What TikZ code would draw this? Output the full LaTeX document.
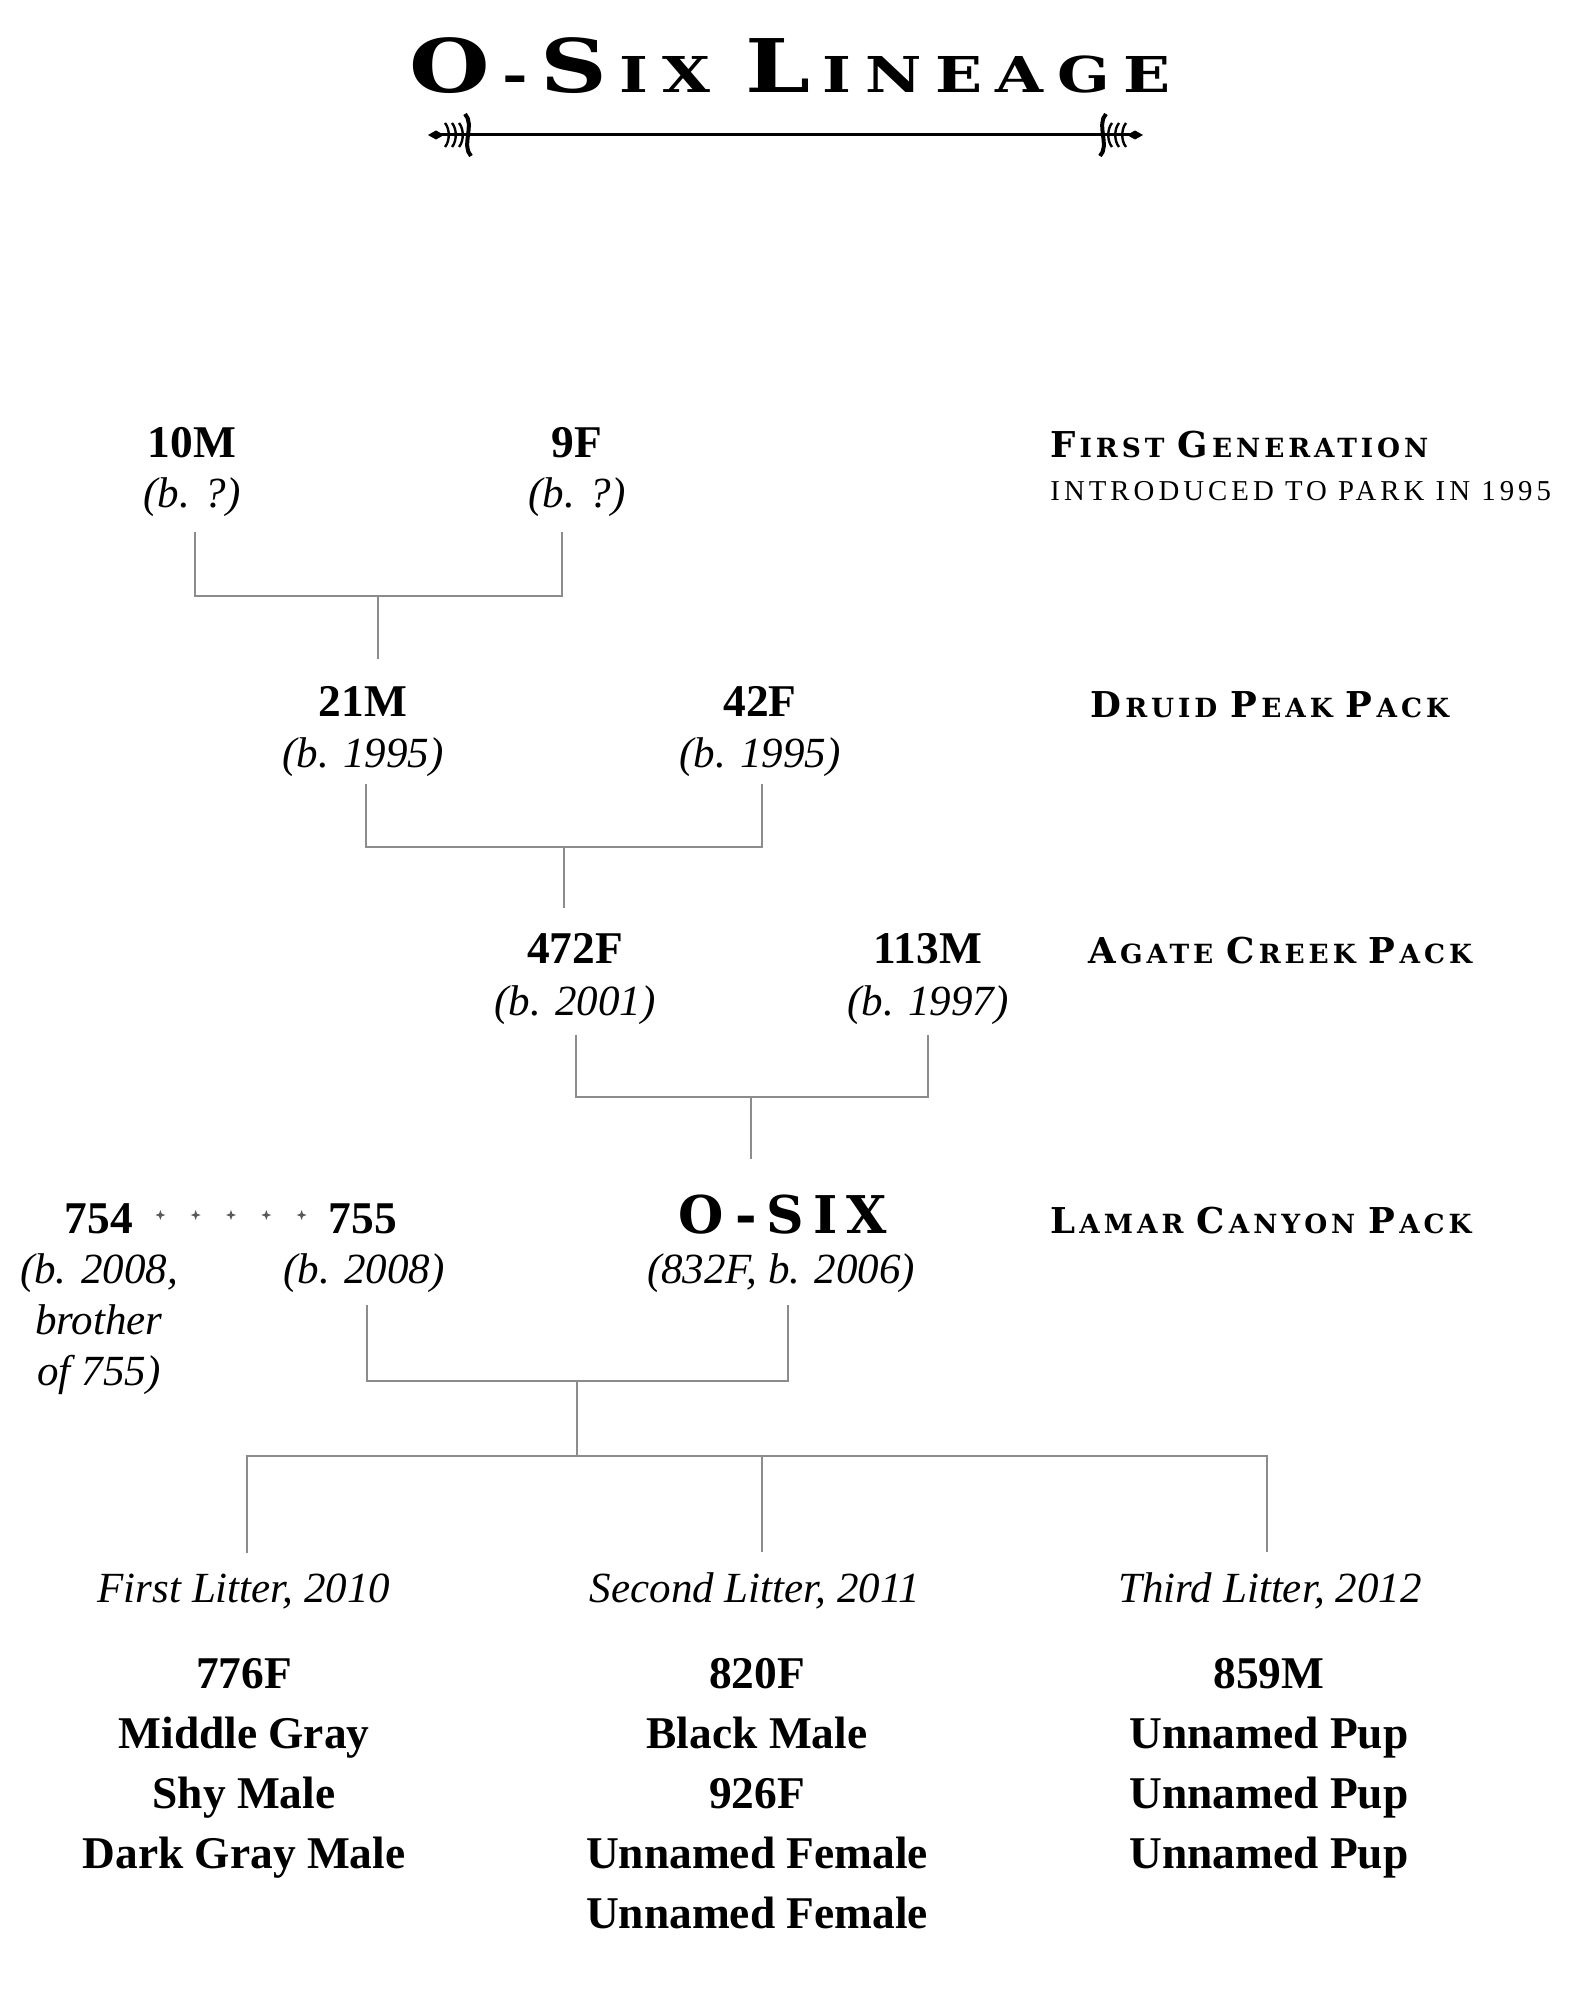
\documentclass[tikz,border=0pt]{standalone}
\usepackage{fontspec}
\usepackage{graphicx}
\setmainfont{Liberation Serif}
\newfontfamily\titlefont{DejaVu Serif}[LetterSpace=22]
\newfontfamily\osixfont{DejaVu Serif}[LetterSpace=18]
\newfontfamily\packfont{DejaVu Serif}[LetterSpace=15]
\newfontfamily\notefont{Liberation Serif}[LetterSpace=14]
\usetikzlibrary{calc}
\definecolor{linkgray}{HTML}{8C8C8C}
\definecolor{dotgray}{HTML}{5A5A5A}
\newcommand{\initcap}[3][0pt]{{\fontsize{#2}{#2}\selectfont #3}\kern#1}

\begin{document}
\begin{tikzpicture}[
    x=0.5pt, y=-0.5pt,
    every node/.style={inner sep=0pt, anchor=base},
    wolf/.style={font=\bfseries\fontsize{22.7}{27}\selectfont},
    born/.style={font=\itshape\fontsize{21.5}{25}\selectfont},
    pup/.style={font=\bfseries\fontsize{22.7}{27}\selectfont},
    litter/.style={font=\itshape\fontsize{21.5}{25}\selectfont},
    pack/.style={anchor=base west, font=\packfont\bfseries\fontsize{13.2}{16}\selectfont},
    link/.style={draw=linkgray, line width=1.25pt},
    orn/.style={line width=1.5pt, line cap=round}
  ]
  \fill[white] (0,0) rectangle (1586,2016);
  \useasboundingbox (0,0) rectangle (1586,2016);

  % title and ornament
  \node[font=\titlefont\bfseries\fontsize{24.7}{30}\selectfont] (title) at (790,93)
    {\scalebox{1.25}[1]{\initcap[5pt]{37}{O}-\kern5pt\initcap[5pt]{37}{S}IX \initcap[5pt]{37}{L}INEAGE}};
  \foreach \side in {1,-1}{
    \begin{scope}[shift={({(1-\side)*785.5},0)}, xscale=\side]
      \fill (428,135) -- (436,130.5) -- (444,135) -- (436,139.5) -- cycle;
      \foreach \fx in {446,453,460}
        \draw[line width=1.2pt] (\fx-1,123) .. controls (\fx+4,129) and (\fx+4,141) .. (\fx-1,147);
      \draw[line width=2pt] (465,114) .. controls (475,124) and (461,146) .. (471,156);
    \end{scope}
  }
  \draw[orn] (436,135) -- (1135,135);

  % generation labels
  \node[pack] (gen1) at (1050,458) {\initcap[2pt]{17.8}{F}IRST \initcap[2pt]{17.8}{G}ENERATION};
  \node[pack, font=\notefont\fontsize{14.4}{16}\selectfont] (gen1note) at (1050,501) {INTRODUCED TO PARK IN 1995};
  \node[pack] (druid) at (1090,717) {\initcap[2pt]{17.8}{D}RUID \initcap[2pt]{17.8}{P}EAK \initcap[2pt]{17.8}{P}ACK};
  \node[pack] (agate) at (1088,963) {\initcap[2pt]{17.8}{A}GATE \initcap[2pt]{17.8}{C}REEK \initcap[2pt]{17.8}{P}ACK};
  \node[pack] (lamar) at (1050,1233) {\initcap[2pt]{17.8}{L}AMAR \initcap[2pt]{17.8}{C}ANYON \initcap[2pt]{17.8}{P}ACK};

  % wolves
  \node[wolf] (m10) at (192,458) {10M};
  \node[born] (m10b) at (192,508) {(b. ?)};
  \node[wolf] (f9) at (577,458) {9F};
  \node[born] (f9b) at (577,508) {(b. ?)};
  \node[wolf] (m21) at (363,716) {21M};
  \node[born] (m21b) at (363,767) {(b. 1995)};
  \node[wolf] (f42) at (760,716) {42F};
  \node[born] (f42b) at (760,767) {(b. 1995)};
  \node[wolf] (f472) at (575,963) {472F};
  \node[born] (f472b) at (575,1015) {(b. 2001)};
  \node[wolf] (m113) at (928,963) {113M};
  \node[born] (m113b) at (928,1015) {(b. 1997)};
  \node[wolf, font=\osixfont\bfseries\fontsize{26}{30}\selectfont] (osix) at (783,1233) {O-SIX};
  \node[born] (osixb) at (781,1283) {(832F, b. 2006)};
  \node[wolf] (w754) at (99,1233) {754};
  \node[born] (w754b) at (99,1283) {(b. 2008,};
  \node[born] (w754c) at (99,1334) {brother};
  \node[born] (w754d) at (99,1385) {of 755)};
  \node[wolf] (w755) at (363,1233) {755};
  \node[born] (w755b) at (364,1283) {(b. 2008)};

  % brothers
  \foreach \f in {0.138,0.319,0.5,0.681,0.862}
    \fill[dotgray] ($(w754.base east)!\f!(w755.base west)+(0,-18)$)
      +(0,-5) -- +(1.3,-1.3) -- +(5,0) -- +(1.3,1.3) -- +(0,5)
      -- +(-1.3,1.3) -- +(-5,0) -- +(-1.3,-1.3) -- cycle;

  % litters
  \node[litter] (lit1) at (244,1602) {First Litter, 2010};
  \node[litter] (lit2) at (755,1602) {Second Litter, 2011};
  \node[litter] (lit3) at (1270,1602) {Third Litter, 2012};
  \foreach \t [count=\i] in {776F, Middle Gray, Shy Male, Dark Gray Male}
    \node[pup] (first\i) at (244,{1628+60*\i}) {\t};
  \foreach \t [count=\i] in {820F, Black Male, 926F, Unnamed Female, Unnamed Female}
    \node[pup] (second\i) at (757,{1628+60*\i}) {\t};
  \foreach \t [count=\i] in {859M, Unnamed Pup, Unnamed Pup, Unnamed Pup}
    \node[pup] (third\i) at (1269,{1628+60*\i}) {\t};

  % lineage brackets
  \coordinate (j1) at (378,596);
  \coordinate (j2) at (564,847);
  \coordinate (j3) at (751,1097);
  \coordinate (j4) at (577,1381);
  \coordinate (j5) at (577,1456);
  \draw[link] (m10b.south) ++(3,14) |- (j1) -| ($(f9b.south)+(-15,14)$);
  \draw[link] (j1) -- ($(j1 |- m21.north)+(0,-27)$);
  \draw[link] (m21b.south) ++(3,7) |- (j2) -| ($(f42b.south)+(2,7)$);
  \draw[link] (j2) -- ($(j2 |- f472.north)+(0,-25)$);
  \draw[link] (f472b.south) ++(1,10) |- (j3) -| ($(m113b.south)+(0,10)$);
  \draw[link] (j3) -- ($(j3 |- osix.north)+(0,-35)$);
  \draw[link] (w755b.south) ++(3,12) |- (j4) -| ($(osixb.south)+(7,12)$);
  \draw[link] (j4) -- (j5);
  \draw[link] (lit1.north) ++(3,-20) |- (j5) -| ($(lit3.north)+(-3,-20)$);
  \draw[link] (lit2.north) ++(7,-20) |- (j5);
\end{tikzpicture}
\end{document}
